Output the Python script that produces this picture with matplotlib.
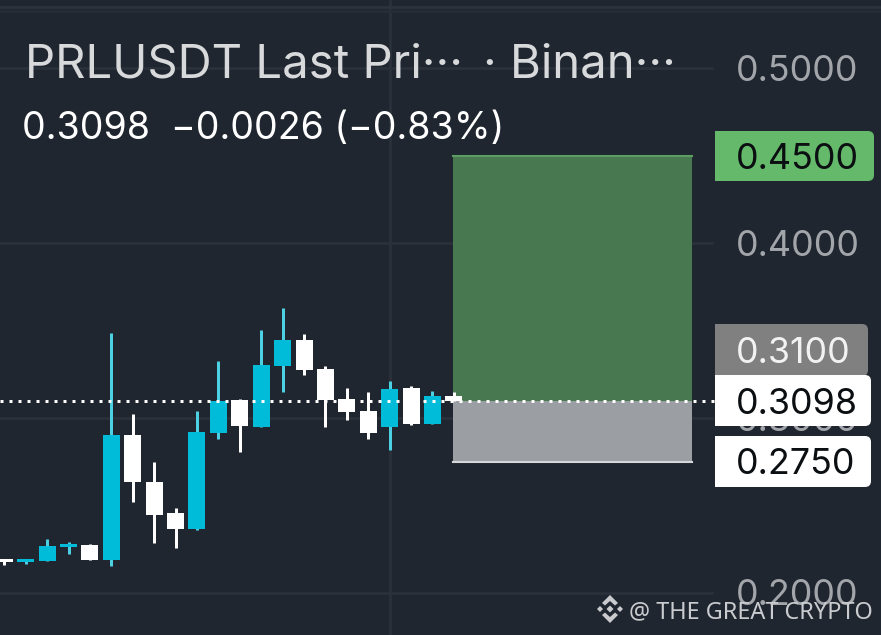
import matplotlib
matplotlib.use("Agg")
import matplotlib.pyplot as plt
from matplotlib.patches import FancyBboxPatch, Polygon, Rectangle

plt.rcParams['font.family'] = ['Inter', 'DejaVu Sans']

# colours
BG = "#1f2630"
GRID = "#2a313b"
CYAN = "#00bcd9"
CYAN_WICK = "#4dd0e1"
WHITE = "#ffffff"

# candles
candle_open = [0.2194, 0.2177, 0.2183, 0.2263, 0.2274, 0.2189, 0.2903, 0.2634, 0.2457, 0.2366, 0.2914,
               0.3103, 0.2949, 0.3297, 0.3446, 0.3280, 0.3109, 0.3040, 0.2949, 0.3171, 0.2966, 0.3126]
candle_high = [0.2194, 0.2194, 0.2309, 0.2291, 0.2280, 0.3486, 0.3023, 0.2749, 0.2486, 0.3040, 0.3326,
               0.3109, 0.3503, 0.3629, 0.3480, 0.3297, 0.3171, 0.3149, 0.3211, 0.3183, 0.3154, 0.3149]
candle_low = [0.2160, 0.2166, 0.2183, 0.2223, 0.2189, 0.2154, 0.2520, 0.2286, 0.2257, 0.2360, 0.2880,
              0.2806, 0.2949, 0.3149, 0.3246, 0.2949, 0.2989, 0.2880, 0.2817, 0.2960, 0.2966, 0.3097]
candle_close = [0.2177, 0.2194, 0.2269, 0.2280, 0.2189, 0.2903, 0.2634, 0.2446, 0.2366, 0.2920, 0.3097,
                0.2954, 0.3303, 0.3446, 0.3274, 0.3103, 0.3034, 0.2914, 0.3166, 0.2966, 0.3126, 0.3097]
candle_cyan = [False, True, True, True, False, True, False, False, False, True, True,
               False, True, True, False, False, False, False, True, False, True, False]

axis_ticks = [0.5, 0.4, 0.3, 0.2]
take_profit = 0.45
entry = 0.31
last_price = 0.3098
stop_loss = 0.275

title_symbol = "PRLUSDT Last Pri\u00b7\u00b7\u00b7"
title_exchange = "\u00b7 Binan\u00b7\u00b7\u00b7"
subtitle = "0.3098  \u22120.0026 (\u22120.83%)"
watermark = "@ THE GREAT CRYPTO"

fig = plt.figure(figsize=(8.81, 6.35), dpi=100, facecolor=BG)
ax = fig.add_axes([0, 0, 1, 1], facecolor=BG)
ax.set_xlim(-0.2, 40.95)
ax.set_ylim(0.176, 0.5389)
ax.axis("off")

# overlay in pixel coordinates for the price tags and text
ov = fig.add_axes([0, 0, 1, 1], facecolor="none")
ov.set_xlim(0, 881)
ov.set_ylim(635, 0)
ov.axis("off")

# grid
grid_right = 712 / 881
for t in axis_ticks:
    ax.axhline(t, xmin=0, xmax=grid_right, color=GRID, lw=2, zorder=1)
ax.axvline(18, color=GRID, lw=2, zorder=1)
ov.axhline(7, color="#2c333d", lw=2, zorder=1)
ov.axhline(11, color="#262d37", lw=2, zorder=1)

# candles
xs = list(range(len(candle_open)))
for i in xs:
    body = CYAN if candle_cyan[i] else WHITE
    wick = CYAN_WICK if candle_cyan[i] else WHITE
    ax.vlines(i, candle_low[i], candle_high[i], color=wick, lw=2.16, capstyle="butt", zorder=3)
    ax.bar(i, abs(candle_close[i] - candle_open[i]), bottom=min(candle_open[i], candle_close[i]),
           width=0.794, color=body, zorder=4)

# long position box
box_x0 = 20.98
box_w = 11.14
ax.add_patch(Rectangle((box_x0, entry), box_w, take_profit - entry, fc="#487850", ec="none", zorder=2))
ax.add_patch(Rectangle((box_x0, stop_loss), box_w, entry - stop_loss, fc="#9b9ea3", ec="none", zorder=2))
ax.plot([box_x0, box_x0 + box_w], [take_profit, take_profit], color="#5c9c62", lw=1.5, zorder=3)
ax.plot([box_x0, box_x0 + box_w], [stop_loss, stop_loss], color="#d5d7da", lw=1.5, zorder=3)

# last price dotted line
ax.plot([-0.2, 33.2], [last_price, last_price], color=WHITE, lw=2.16, dashes=(1, 2), zorder=5)

# axis labels
LABEL_X = 736
LABEL_SIZE = 25.8
for t, y in zip(axis_ticks, [68, 243, 418, 592]):
    ov.text(LABEL_X, y, f"{t:.4f}", color="#a2a5aa", fontsize=LABEL_SIZE, va="center_baseline", ha="left", zorder=2)


def price_tag(y0, y1, right, colour, text, text_colour):
    # rounded on the right side only
    ov.add_patch(FancyBboxPatch((725, y0 + 6), right - 725 - 6, y1 - y0 - 12,
                                boxstyle="round,pad=6", fc=colour, ec="none", zorder=6))
    ov.add_patch(Rectangle((715, y0), 30, y1 - y0, fc=colour, ec="none", zorder=6))
    ov.text(LABEL_X, (y0 + y1) / 2, text, color=text_colour, fontsize=LABEL_SIZE, va="center_baseline", ha="left", zorder=7)


price_tag(131, 181, 874, "#64b96a", f"{take_profit:.4f}", "#0c0f12")
price_tag(324, 376, 868, "#808080", f"{entry:.4f}", "#f2f2f2")
price_tag(375, 426, 871, WHITE, f"{last_price:.4f}", "#0c0f12")
price_tag(436, 487, 871, WHITE, f"{stop_loss:.4f}", "#0c0f12")

# title lines
ov.text(25, 60, title_symbol, color="#d8d9db", fontsize=34, va="center_baseline", ha="left", zorder=8)
ov.text(483, 60, title_exchange, color="#d8d9db", fontsize=34, va="center_baseline", ha="left", zorder=8)
ov.text(22, 125, subtitle, color=WHITE, fontsize=27, va="center_baseline", ha="left", zorder=8)

# watermark with small exchange logo
LOGO = "#c9cbce"
cx, cy = 610, 609
for dx, dy, r in [(0, 0, 3.5), (-10, 0, 3), (10, 0, 3)]:
    ov.add_patch(Polygon([(cx + dx - r, cy + dy), (cx + dx, cy + dy - r), (cx + dx + r, cy + dy), (cx + dx, cy + dy + r)],
                         fc=LOGO, ec="none", zorder=8))
for s in (-1, 1):
    ov.add_patch(Polygon([(cx - 8, cy + s * 6), (cx, cy + s * 14), (cx + 8, cy + s * 6), (cx + 5, cy + s * 3.5),
                          (cx, cy + s * 8), (cx - 5, cy + s * 3.5)], fc=LOGO, ec="none", zorder=8))
ov.text(629, 609, watermark, color="#c9cbce", fontsize=16.9, family=["Noto Sans", "DejaVu Sans"],
        va="center_baseline", ha="left", zorder=8)

fig.savefig("out.png", dpi=100, facecolor=BG)
